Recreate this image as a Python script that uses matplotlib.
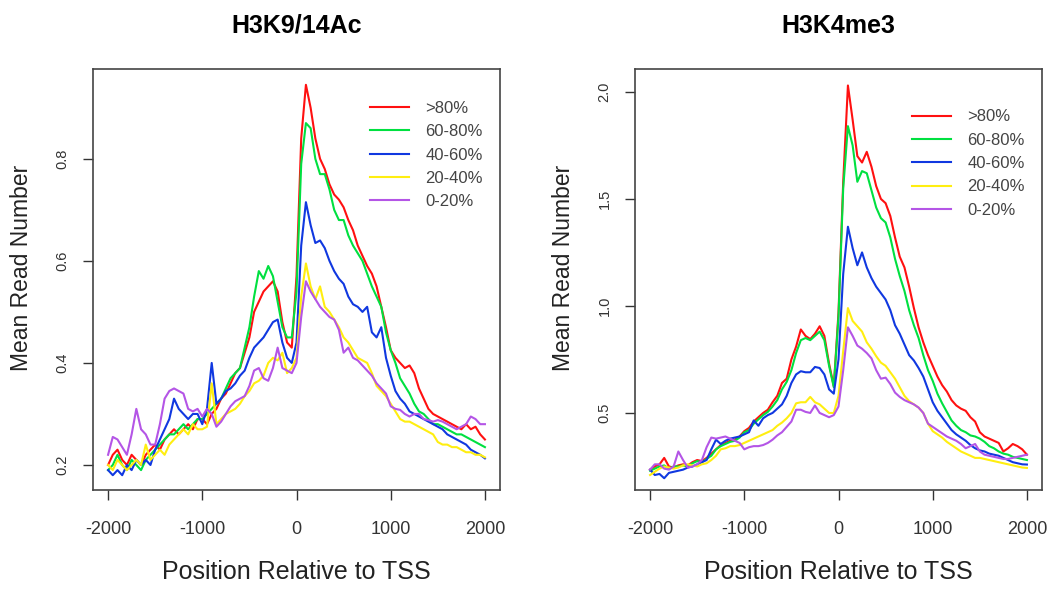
import numpy as np
import matplotlib.pyplot as plt

# positions relative to TSS, 50 bp bins
pos = np.arange(-2000, 2001, 50)

groups = [">80%", "60-80%", "40-60%", "20-40%", "0-20%"]
colors = ["#FF1010", "#00E040", "#1038E0", "#FFEE10", "#B455E6"]

# H3K9/14Ac mean read number per expression group
ac_top = [0.20, 0.22, 0.23, 0.21, 0.20, 0.22, 0.21, 0.20, 0.22, 0.23,
          0.24, 0.23, 0.25, 0.26, 0.27, 0.26, 0.27, 0.28, 0.27, 0.29,
          0.29, 0.28, 0.30, 0.31, 0.33, 0.34, 0.36, 0.38, 0.39, 0.42,
          0.45, 0.50, 0.52, 0.54, 0.55, 0.56, 0.54, 0.48, 0.44, 0.43,
          0.57, 0.84, 0.945, 0.90, 0.84, 0.80, 0.78, 0.75, 0.73, 0.72,
          0.705, 0.68, 0.66, 0.63, 0.61, 0.59, 0.575, 0.55, 0.51, 0.47,
          0.425, 0.41, 0.40, 0.39, 0.395, 0.38, 0.35, 0.33, 0.31, 0.30,
          0.295, 0.29, 0.285, 0.28, 0.275, 0.27, 0.28, 0.27, 0.275, 0.26,
          0.25]
ac_60_80 = [0.19, 0.20, 0.22, 0.20, 0.19, 0.21, 0.20, 0.19, 0.21, 0.22,
            0.23, 0.24, 0.25, 0.26, 0.26, 0.27, 0.28, 0.27, 0.28, 0.29,
            0.29, 0.30, 0.31, 0.32, 0.33, 0.35, 0.37, 0.38, 0.39, 0.43,
            0.47, 0.53, 0.58, 0.565, 0.59, 0.57, 0.52, 0.47, 0.45, 0.45,
            0.54, 0.79, 0.87, 0.86, 0.80, 0.77, 0.77, 0.74, 0.70, 0.68,
            0.68, 0.65, 0.63, 0.615, 0.60, 0.575, 0.55, 0.53, 0.51, 0.46,
            0.425, 0.40, 0.37, 0.355, 0.34, 0.32, 0.305, 0.30, 0.29, 0.28,
            0.28, 0.275, 0.27, 0.265, 0.26, 0.26, 0.255, 0.25, 0.245, 0.24,
            0.235]
ac_40_60 = [0.19, 0.18, 0.19, 0.18, 0.20, 0.19, 0.21, 0.20, 0.21, 0.20,
            0.23, 0.25, 0.27, 0.29, 0.33, 0.31, 0.30, 0.29, 0.30, 0.30,
            0.28, 0.31, 0.40, 0.32, 0.33, 0.345, 0.35, 0.36, 0.375, 0.385,
            0.41, 0.43, 0.44, 0.45, 0.465, 0.48, 0.485, 0.44, 0.41, 0.40,
            0.44, 0.63, 0.715, 0.67, 0.635, 0.64, 0.625, 0.60, 0.58, 0.565,
            0.555, 0.53, 0.515, 0.51, 0.50, 0.51, 0.46, 0.45, 0.47, 0.41,
            0.375, 0.345, 0.33, 0.32, 0.305, 0.30, 0.295, 0.29, 0.285, 0.28,
            0.275, 0.27, 0.26, 0.255, 0.25, 0.245, 0.24, 0.23, 0.225, 0.22,
            0.213]
ac_20_40 = [0.20, 0.19, 0.21, 0.20, 0.19, 0.20, 0.21, 0.20, 0.24, 0.21,
            0.22, 0.23, 0.22, 0.24, 0.25, 0.26, 0.27, 0.26, 0.28, 0.27,
            0.27, 0.275, 0.36, 0.28, 0.29, 0.30, 0.305, 0.31, 0.32, 0.335,
            0.345, 0.36, 0.365, 0.375, 0.40, 0.41, 0.405, 0.42, 0.38, 0.39,
            0.41, 0.53, 0.595, 0.55, 0.525, 0.55, 0.51, 0.50, 0.485, 0.47,
            0.45, 0.44, 0.425, 0.41, 0.405, 0.40, 0.38, 0.355, 0.345, 0.335,
            0.32, 0.305, 0.29, 0.285, 0.285, 0.28, 0.275, 0.27, 0.265, 0.26,
            0.245, 0.24, 0.24, 0.235, 0.235, 0.23, 0.225, 0.225, 0.22, 0.22,
            0.215]
ac_0_20 = [0.22, 0.255, 0.25, 0.235, 0.22, 0.26, 0.31, 0.27, 0.26, 0.24,
           0.24, 0.28, 0.33, 0.345, 0.35, 0.345, 0.34, 0.31, 0.305, 0.31,
           0.295, 0.31, 0.30, 0.275, 0.285, 0.30, 0.315, 0.325, 0.33, 0.335,
           0.355, 0.385, 0.39, 0.37, 0.365, 0.39, 0.43, 0.39, 0.385, 0.38,
           0.40, 0.49, 0.56, 0.54, 0.525, 0.51, 0.50, 0.49, 0.485, 0.465,
           0.42, 0.43, 0.41, 0.405, 0.395, 0.385, 0.375, 0.36, 0.35, 0.34,
           0.315, 0.31, 0.308, 0.30, 0.295, 0.30, 0.30, 0.29, 0.288, 0.285,
           0.288, 0.285, 0.28, 0.275, 0.27, 0.275, 0.28, 0.295, 0.29, 0.28,
           0.28]

# H3K4me3 mean read number per expression group
me_top = [0.235, 0.25, 0.26, 0.29, 0.25, 0.245, 0.255, 0.26, 0.255, 0.27,
          0.28, 0.275, 0.29, 0.31, 0.33, 0.35, 0.36, 0.37, 0.375, 0.39,
          0.415, 0.43, 0.46, 0.48, 0.50, 0.515, 0.55, 0.58, 0.64, 0.66,
          0.75, 0.81, 0.89, 0.86, 0.845, 0.87, 0.905, 0.86, 0.73, 0.625,
          0.97, 1.58, 2.03, 1.87, 1.70, 1.67, 1.72, 1.65, 1.56, 1.50,
          1.48, 1.42, 1.32, 1.23, 1.18, 1.09, 0.99, 0.90, 0.83, 0.77,
          0.72, 0.67, 0.63, 0.60, 0.56, 0.535, 0.52, 0.51, 0.48, 0.46,
          0.41, 0.39, 0.38, 0.37, 0.36, 0.32, 0.335, 0.355, 0.345, 0.33,
          0.305]
me_60_80 = [0.23, 0.24, 0.25, 0.255, 0.24, 0.25, 0.25, 0.255, 0.25, 0.265,
            0.275, 0.27, 0.285, 0.30, 0.33, 0.345, 0.355, 0.365, 0.37, 0.385,
            0.41, 0.42, 0.45, 0.47, 0.49, 0.505, 0.53, 0.56, 0.61, 0.645,
            0.70, 0.78, 0.84, 0.85, 0.84, 0.86, 0.88, 0.84, 0.72, 0.62,
            0.95, 1.55, 1.84, 1.75, 1.58, 1.63, 1.62, 1.54, 1.46, 1.41,
            1.39, 1.32, 1.22, 1.14, 1.07, 0.98, 0.91, 0.85, 0.77, 0.70,
            0.65, 0.59, 0.545, 0.505, 0.465, 0.44, 0.42, 0.41, 0.395, 0.39,
            0.38, 0.365, 0.345, 0.335, 0.32, 0.31, 0.305, 0.295, 0.29, 0.285,
            0.28]
me_40_60 = [0.235, 0.21, 0.215, 0.195, 0.22, 0.225, 0.23, 0.235, 0.245, 0.25,
            0.26, 0.27, 0.28, 0.33, 0.375, 0.355, 0.37, 0.38, 0.385, 0.39,
            0.40, 0.41, 0.465, 0.44, 0.475, 0.49, 0.50, 0.52, 0.54, 0.58,
            0.64, 0.68, 0.695, 0.69, 0.69, 0.715, 0.71, 0.68, 0.61, 0.59,
            0.75, 1.15, 1.37, 1.27, 1.19, 1.25, 1.18, 1.13, 1.09, 1.06,
            1.03, 0.98, 0.91, 0.87, 0.82, 0.77, 0.745, 0.71, 0.67, 0.61,
            0.55, 0.51, 0.48, 0.45, 0.42, 0.40, 0.385, 0.37, 0.35, 0.335,
            0.325, 0.32, 0.31, 0.305, 0.30, 0.29, 0.28, 0.27, 0.265, 0.26,
            0.259]
me_20_40 = [0.21, 0.225, 0.24, 0.25, 0.245, 0.24, 0.245, 0.255, 0.26, 0.255,
            0.25, 0.26, 0.265, 0.28, 0.30, 0.33, 0.335, 0.345, 0.345, 0.35,
            0.36, 0.37, 0.38, 0.39, 0.40, 0.41, 0.42, 0.44, 0.455, 0.475,
            0.50, 0.545, 0.55, 0.55, 0.575, 0.55, 0.54, 0.52, 0.50, 0.50,
            0.58, 0.79, 0.99, 0.93, 0.905, 0.88, 0.83, 0.80, 0.765, 0.735,
            0.72, 0.69, 0.66, 0.62, 0.58, 0.555, 0.54, 0.525, 0.50, 0.45,
            0.415, 0.40, 0.385, 0.365, 0.35, 0.335, 0.32, 0.31, 0.30, 0.29,
            0.29, 0.285, 0.28, 0.275, 0.27, 0.265, 0.26, 0.255, 0.25, 0.245,
            0.243]
me_0_20 = [0.235, 0.26, 0.26, 0.24, 0.235, 0.25, 0.32, 0.28, 0.245, 0.25,
           0.26, 0.28, 0.34, 0.385, 0.38, 0.385, 0.39, 0.38, 0.37, 0.36,
           0.33, 0.34, 0.345, 0.345, 0.35, 0.36, 0.375, 0.395, 0.41, 0.435,
           0.46, 0.515, 0.515, 0.505, 0.50, 0.535, 0.50, 0.49, 0.48, 0.49,
           0.53, 0.70, 0.90, 0.86, 0.815, 0.80, 0.78, 0.755, 0.70, 0.66,
           0.665, 0.635, 0.595, 0.575, 0.56, 0.55, 0.54, 0.525, 0.50, 0.45,
           0.435, 0.42, 0.405, 0.39, 0.38, 0.37, 0.355, 0.335, 0.345, 0.355,
           0.32, 0.305, 0.30, 0.295, 0.29, 0.285, 0.285, 0.29, 0.295, 0.30,
           0.305]

panels = [
    ("H3K9/14Ac", [ac_top, ac_60_80, ac_40_60, ac_20_40, ac_0_20],
     [0.2, 0.4, 0.6, 0.8], (0.151, 0.976), 0.94),
    ("H3K4me3", [me_top, me_60_80, me_40_60, me_20_40, me_0_20],
     [0.5, 1.0, 1.5, 2.0], (0.14, 2.107), 0.92),
]
xticks = [-2000, -1000, 0, 1000, 2000]

plt.rcParams["font.family"] = ["Liberation Sans", "DejaVu Sans"]

fig = plt.figure(figsize=(10.5, 5.9), dpi=100)
lefts = [93 / 1050, 635 / 1050]

for left, (title, series, yticks, ylim, leg_top) in zip(lefts, panels):
    ax = fig.add_axes([left, 100 / 590, 407 / 1050, 421 / 590])
    for vals, lab, col in zip(series, groups, colors):
        ax.plot(pos, vals, color=col, lw=1.5, label=lab)
    ax.set_xlim(-2160, 2160)
    ax.set_ylim(*ylim)
    ax.set_xticks(xticks)
    ax.set_xticklabels([str(t) for t in xticks], fontsize=13)
    ax.set_yticks(yticks)
    ax.set_yticklabels([f"{t:.1f}" for t in yticks], fontsize=10.5,
                       rotation=90, va="center")
    ax.tick_params(direction="out", length=7, width=1, color="#333333",
                   labelcolor="#333333")
    ax.tick_params(axis="x", pad=15)
    ax.tick_params(axis="y", pad=10)
    for sp in ax.spines.values():
        sp.set_color("#444444")
        sp.set_linewidth(1.2)
    ax.set_title(title, fontsize=18, fontweight="bold", pad=26)
    ax.set_xlabel("Position Relative to TSS", fontsize=18,
                  labelpad=16, color="#222222")
    ax.set_ylabel("Mean Read Number", fontsize=16.5, color="#222222")
    ax.yaxis.set_label_coords(-0.148, 0.527)
    ax.legend(loc="upper left", bbox_to_anchor=(0.665, leg_top),
              frameon=False, fontsize=12, handlelength=2.3,
              handletextpad=1.0, labelspacing=0.5, borderaxespad=0,
              labelcolor="#444444")

fig.savefig("out.png", dpi=100)
